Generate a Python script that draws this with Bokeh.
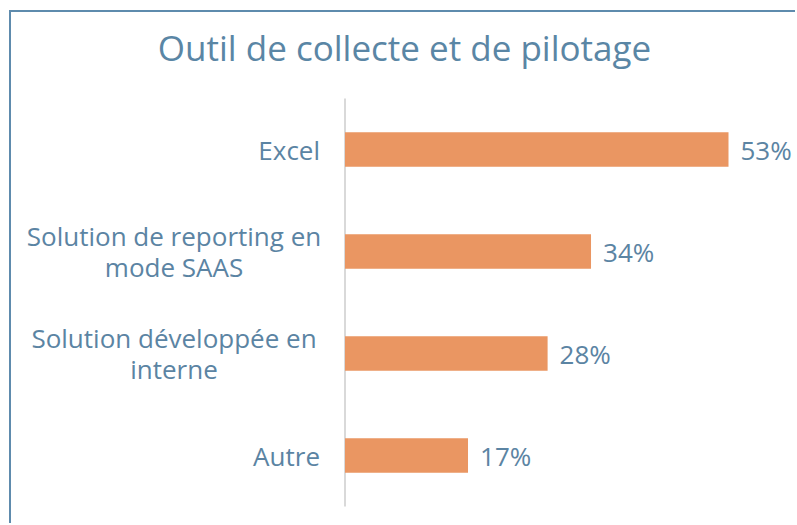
from bokeh.plotting import figure
from bokeh.models import ColumnDataSource, Range1d
from bokeh.core.properties import value
from bokeh.embed import file_html
from bokeh.resources import INLINE

categories = ["Excel", "Solution de reporting en\nmode SAAS", "Solution développée en\ninterne", "Autre"]
values = [53, 34, 28, 17]
value_labels = ["53%", "34%", "28%", "17%"]

title_text = "Outil de collecte et de pilotage"
BAR = "#EA9662"
TXT = "#5B84A3"
FONT = "Open Sans"

W, H = 786, 513
zero_px = 333.5
px_per_unit = 383.5 / 53
top_px, bottom_px = 86, 19
n = len(categories)
band = (H - top_px - bottom_px) / n

p = figure(width=W, height=H, output_backend="svg", toolbar_location=None,
           y_range=Range1d(-0.5 - bottom_px / band, n - 0.5 + top_px / band),
           x_range=Range1d(-zero_px / px_per_unit, (W - zero_px) / px_per_unit),
           min_border_left=0, min_border_right=0, min_border_top=0, min_border_bottom=0)
p.styles = {"border-left": "2px solid #5E8BAD", "border-top": "2px solid #5E8BAD",
            "margin-left": "9px", "margin-top": "10px"}
p.xaxis.visible = False
p.yaxis.visible = False
p.grid.visible = False
p.outline_line_color = None

ypos = [n - 1 - i for i in range(n)]

src = ColumnDataSource(dict(
    y=ypos, v=values, vl=value_labels, lab=categories,
    align=["center" if "\n" in c else "right" for c in categories],
    xoff=[-171 if "\n" in c else -25 for c in categories],
    zero=[0] * n,
))

# title (placed above the category area)
p.text(x=[(W / 2 - zero_px) / px_per_unit], y=[n - 0.5 + 51 / band], text=[title_text],
       text_align="center", text_baseline="alphabetic", text_font=value(FONT),
       text_font_size="35px", text_color="#5A86A5")

# category axis line
p.segment(x0=[0], y0=[-0.5], x1=[0], y1=[n - 0.5], line_color="#D9D9D9", line_width=2)

p.hbar(y="y", right="v", left=0, height=0.34, source=src, fill_color=BAR, line_color=None)

p.text(x="v", y="y", text="vl", source=src, x_offset=12, text_baseline="middle",
       text_align="left", text_font=value(FONT), text_font_size="26px", text_color=TXT)
p.text(x="zero", y="y", text="lab", source=src, x_offset="xoff", text_baseline="middle",
       text_align="align", text_font=value(FONT), text_font_size="26px", text_color=TXT,
       text_line_height=0.85)

open("out.html", "w").write(file_html(p, INLINE))
